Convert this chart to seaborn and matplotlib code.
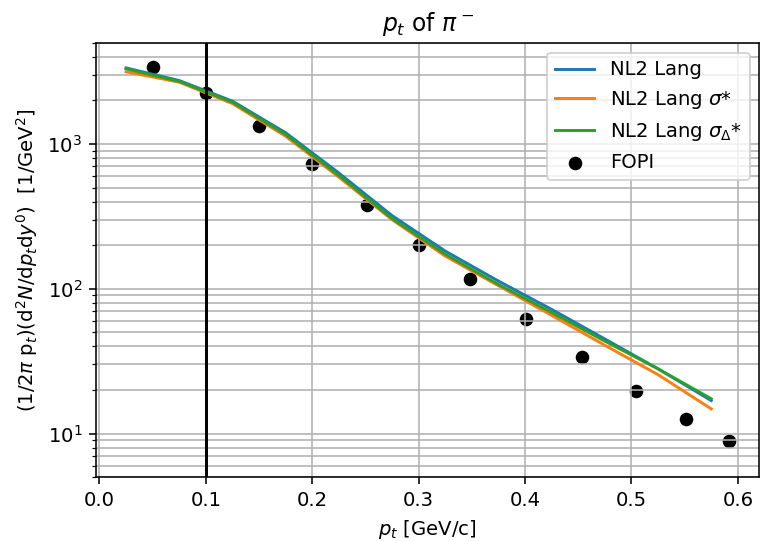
import numpy as np
import matplotlib
matplotlib.use("Agg")
import matplotlib.pyplot as plt
import seaborn as sns

# Model transverse-momentum spectra of pi- (bin centres in GeV/c)
pt_model = [0.025, 0.075, 0.125, 0.175, 0.225, 0.275, 0.325, 0.375, 0.425, 0.475, 0.525, 0.575]
nl2_lang = [3350, 2740, 1975, 1195, 630, 320, 182, 113, 72, 45, 28.0, 16.9]
nl2_lang_sigma = [3150, 2670, 1900, 1130, 590, 300, 168, 105, 65.5, 40.7, 25.5, 14.8]
nl2_lang_sigma_delta = [3300, 2700, 1940, 1160, 605, 305, 173, 107, 68.5, 43.5, 28.0, 17.4]

# FOPI measurement
pt_fopi = [0.05, 0.1, 0.15, 0.2, 0.251, 0.3, 0.348, 0.401, 0.454, 0.504, 0.551, 0.592]
yield_fopi = [3406, 2254, 1334, 725, 376, 202, 116, 61.4, 33.9, 19.6, 12.7, 8.87]

series_labels = ["NL2 Lang", r"NL2 Lang $\sigma$*", r"NL2 Lang $\sigma_\Delta$*"]
series_colors = ["#1f77b4", "#ff7f0e", "#2ca02c"]

dpi = 141
fig, ax = plt.subplots(figsize=(761 / dpi, 541 / dpi), dpi=dpi)
fig.subplots_adjust(left=0.126, right=0.998, bottom=0.118, top=0.921)

for yvals, lab, col in zip([nl2_lang, nl2_lang_sigma, nl2_lang_sigma_delta],
                           series_labels, series_colors):
    sns.lineplot(x=pt_model, y=yvals, ax=ax, color=col, label=lab,
                 linewidth=1.5, sort=False, errorbar=None, legend=False)

sns.scatterplot(x=pt_fopi, y=yield_fopi, ax=ax, color="black", s=48,
                linewidth=0, label="FOPI", legend=False, zorder=1)

ax.axvline(0.1, color="black", linewidth=1.5)

ax.set_yscale("log")
ax.set_ylim(5, 5000)
ax.grid(True, which="both", color="#b0b0b0", linewidth=0.8)

ax.set_title(r"$p_t$ of $\pi^-$")
ax.set_xlabel(r"$p_t$ [GeV/c]")
ax.set_ylabel(r"(1/2$\pi$ p$_t$)(d$^2N$/d$p_t$d$y^0$)  [1/GeV$^2$]")

ax.legend(loc="upper right")

fig.savefig("out.png", dpi=dpi)
